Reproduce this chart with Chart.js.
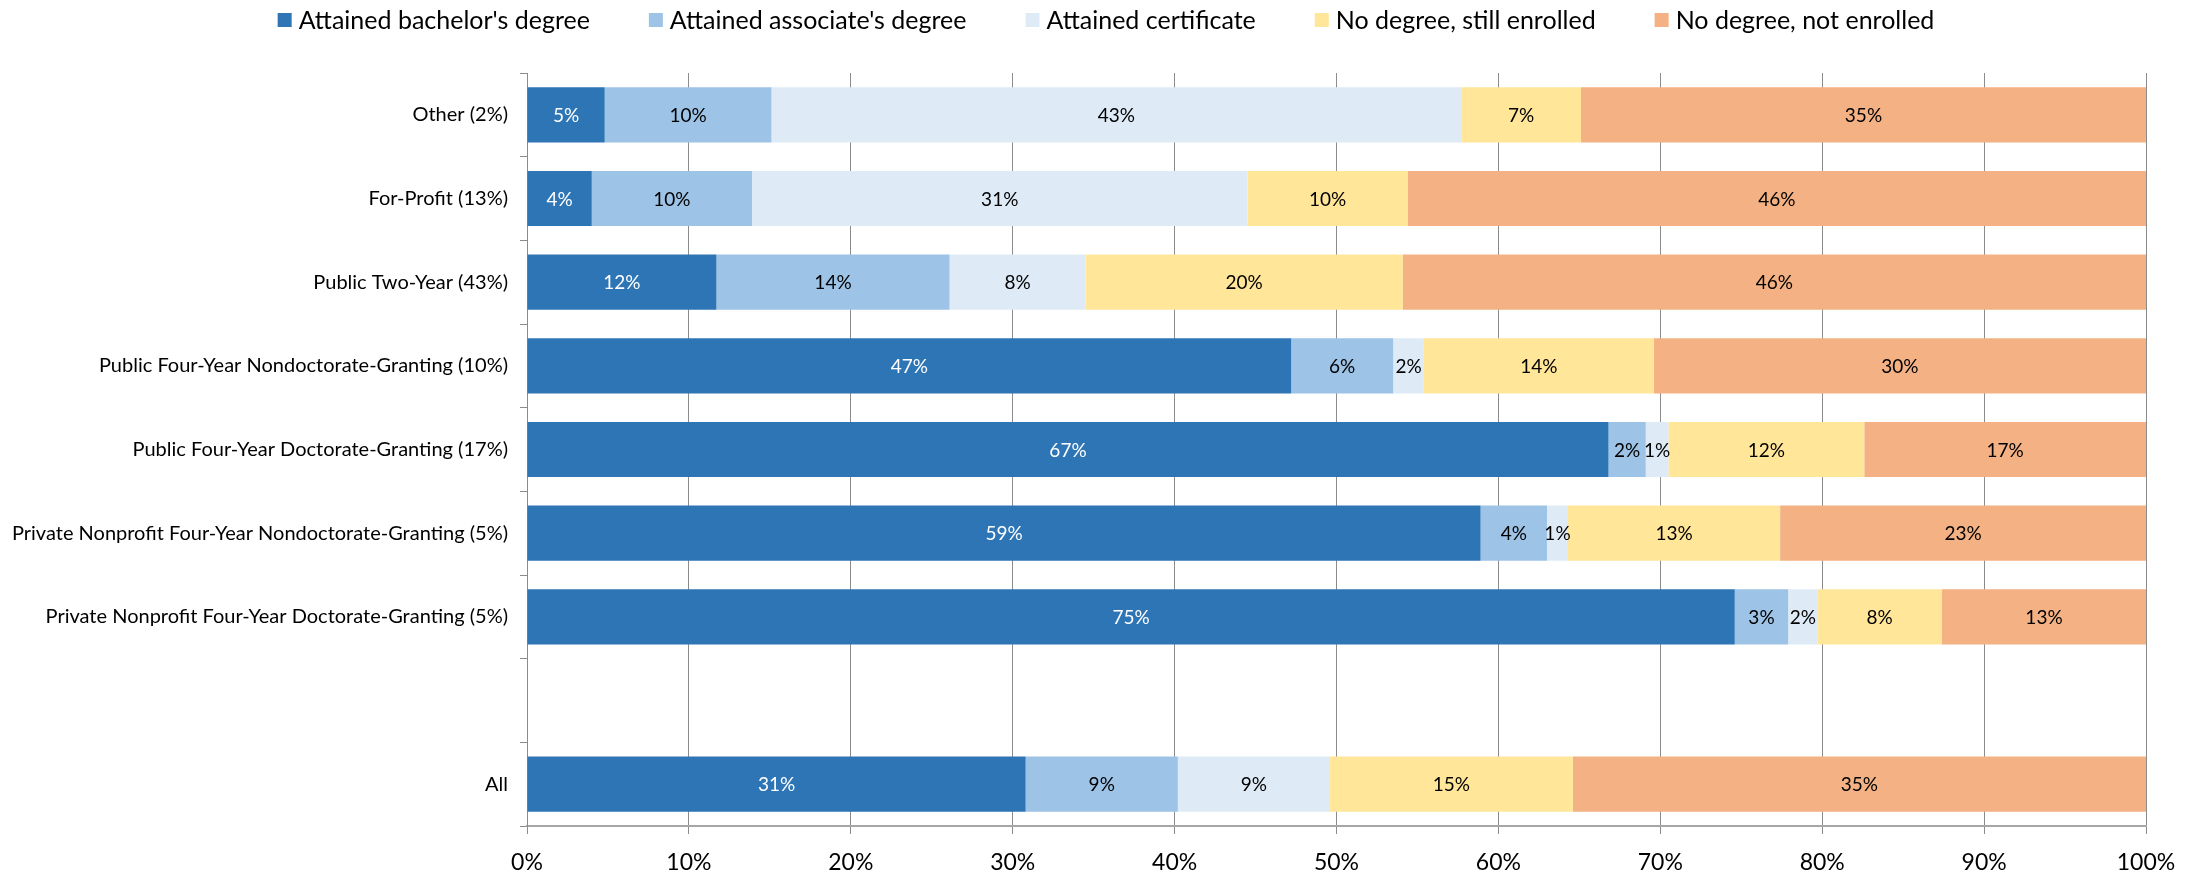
<!DOCTYPE html>
<html>
<head>
<meta charset="utf-8">
<script src="https://cdn.jsdelivr.net/npm/chart.js@4/dist/chart.umd.min.js"></script>
<style>
  html, body { margin: 0; padding: 0; background: #fff; }
  #wrap { width: 2203px; height: 875px; }
</style>
</head>
<body>
<div id="wrap"><canvas id="outcomes" width="2203" height="875"></canvas></div>
<script>
'use strict';

// Institution type (share of students) - top to bottom, blank row before "All"
const categories = [
    'Other (2%)',
    'For-Profit (13%)',
    'Public Two-Year (43%)',
    'Public Four-Year Nondoctorate-Granting (10%)',
    'Public Four-Year Doctorate-Granting (17%)',
    'Private Nonprofit Four-Year Nondoctorate-Granting (5%)',
    'Private Nonprofit Four-Year Doctorate-Granting (5%)',
    '',
    'All'
];

// Outcome shares, percent of each row
const bachelor      = [4.8, 4.0, 11.7, 47.2, 66.8, 58.9, 74.6, null, 30.8];
const associate     = [10.3, 9.9, 14.4, 6.3, 2.3, 4.1, 3.3, null, 9.4];
const certificate   = [42.6, 30.6, 8.4, 1.9, 1.4, 1.3, 1.8, null, 9.4];
const stillEnrolled = [7.4, 9.9, 19.6, 14.2, 12.1, 13.1, 7.7, null, 15.0];
const notEnrolled   = [34.9, 45.6, 45.9, 30.4, 17.4, 22.6, 12.6, null, 35.4];

const seriesNames = [
    "Attained bachelor's degree",
    "Attained associate's degree",
    'Attained certificate',
    'No degree, still enrolled',
    'No degree, not enrolled'
];
const seriesColors = ['#2e75b6', '#9dc3e6', '#deebf7', '#ffe699', '#f4b183'];
const labelColors = ['#ffffff', '#000000', '#000000', '#000000', '#000000'];

const FONT = 'Lato, "Open Sans", sans-serif';

// Percent labels centred in each segment
const segmentLabels = {
    id: 'segmentLabels',
    afterDatasetsDraw(chart) {
        const ctx = chart.ctx;
        ctx.save();
        ctx.font = `19px ${FONT}`;
        ctx.textAlign = 'center';
        ctx.textBaseline = 'middle';
        chart.data.datasets.forEach((ds, i) => {
            const meta = chart.getDatasetMeta(i);
            meta.data.forEach((bar, j) => {
                const v = ds.data[j];
                if (v === null || v === undefined) return;
                ctx.fillStyle = labelColors[i];
                ctx.fillText(Math.round(v) + '%', (bar.x + bar.base) / 2, bar.y + 1);
            });
        });
        ctx.restore();
    }
};

// Single-row legend across the top, centred on the canvas
const topLegend = {
    id: 'topLegend',
    afterDraw(chart) {
        const ctx = chart.ctx;
        const box = 14, gapText = 7, gapItem = 59, y = 20;
        ctx.save();
        ctx.font = `25px ${FONT}`;
        ctx.textBaseline = 'middle';
        ctx.textAlign = 'left';
        const widths = seriesNames.map(n => box + gapText + ctx.measureText(n).width);
        const total = widths.reduce((a, b) => a + b, 0) + gapItem * (widths.length - 1);
        let x = 1106 - total / 2;
        seriesNames.forEach((name, i) => {
            ctx.fillStyle = seriesColors[i];
            ctx.fillRect(x, y - box / 2, box, box);
            ctx.fillStyle = '#000';
            ctx.fillText(name, x + box + gapText, y + 1);
            x += widths[i] + gapItem;
        });
        ctx.restore();
    }
};

new Chart(document.getElementById('outcomes'), {
    type: 'bar',
    data: {
        labels: categories,
        datasets: seriesNames.map((name, i) => ({
            label: name,
            data: [bachelor, associate, certificate, stillEnrolled, notEnrolled][i],
            backgroundColor: seriesColors[i],
            borderWidth: 0,
            barPercentage: 0.66,
            categoryPercentage: 1.0
        }))
    },
    options: {
        indexAxis: 'y',
        responsive: false,
        animation: false,
        devicePixelRatio: 1,
        layout: { padding: { top: 73, right: 57, bottom: 0, left: 0 } },
        plugins: {
            legend: { display: false },
            tooltip: { enabled: false }
        },
        scales: {
            x: {
                stacked: true,
                min: 0,
                max: 100,
                ticks: {
                    stepSize: 10,
                    padding: 15,
                    color: '#000',
                    font: { family: FONT, size: 23 },
                    callback: v => v + '%'
                },
                grid: { color: '#8c8c8c', lineWidth: 1, tickLength: 8 },
                border: { color: '#a6a6a6', width: 2 },
                afterFit(scale) { scale.height = 49; }
            },
            y: {
                stacked: true,
                ticks: {
                    padding: 12,
                    color: '#000',
                    font: { family: FONT, size: 20 }
                },
                grid: {
                    offset: true,
                    drawOnChartArea: false,
                    tickLength: 7,
                    color: '#8c8c8c'
                },
                border: { color: '#8c8c8c', width: 1 },
                afterFit(scale) { scale.width = 527; }
            }
        }
    },
    plugins: [segmentLabels, topLegend]
});
</script>
</body>
</html>
